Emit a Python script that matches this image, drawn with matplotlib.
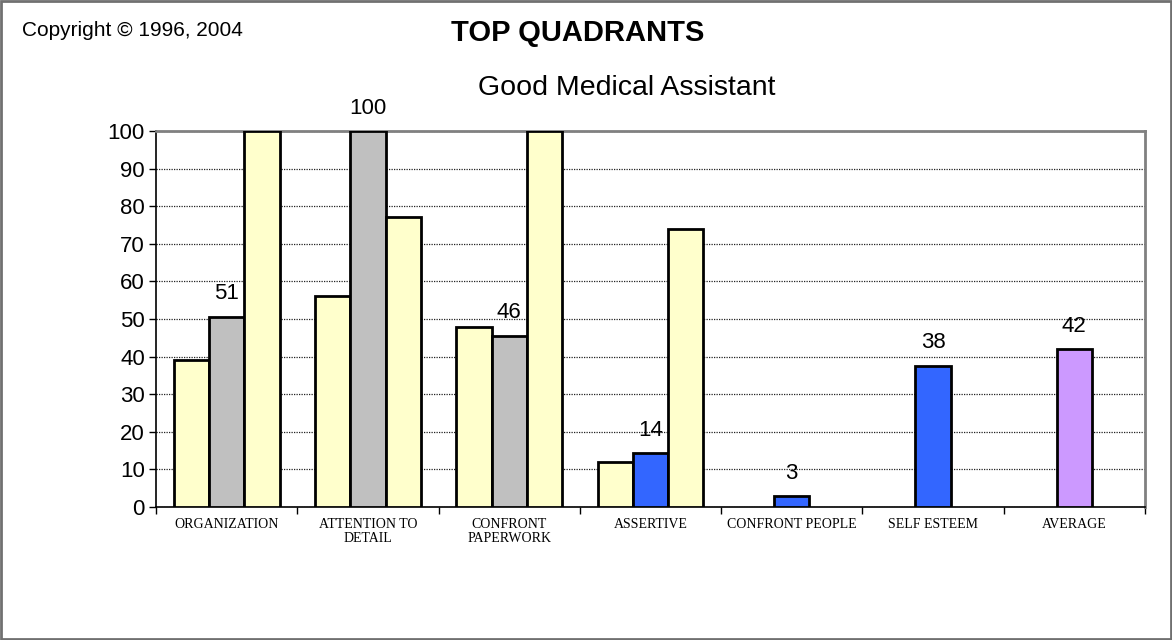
import numpy as np
import matplotlib.pyplot as plt
from matplotlib.patches import Rectangle

# categories and the three series per group
categories = ['ORGANIZATION', 'ATTENTION TO\nDETAIL', 'CONFRONT\nPAPERWORK',
              'ASSERTIVE', 'CONFRONT PEOPLE', 'SELF ESTEEM', 'AVERAGE']
left_vals = [39, 56, 48, 12, np.nan, np.nan, np.nan]
mid_vals = [50.6, 100, 45.6, 14.3, 2.9, 37.6, 41.9]
right_vals = [100, 77, 100, 74, np.nan, np.nan, np.nan]
mid_colors = ['#C0C0C0', '#C0C0C0', '#C0C0C0', '#3366FF', '#3366FF', '#3366FF', '#CC99FF']
side_color = '#FFFFCC'

fig = plt.figure(figsize=(11.72, 6.4), dpi=100)
ax = fig.add_axes([156 / 1172, 1 - 507 / 640, (1145 - 156) / 1172, (507 - 131) / 640])

x = np.arange(len(categories))
w = 0.25
ax.bar(x - w, left_vals, w, color=side_color, edgecolor='black', linewidth=2, zorder=3)
ax.bar(x, mid_vals, w, color=mid_colors, edgecolor='black', linewidth=2, zorder=3)
ax.bar(x + w, right_vals, w, color=side_color, edgecolor='black', linewidth=2, zorder=3)

for xi, v in zip(x, mid_vals):
    ax.annotate('%.0f' % v, (xi, v), xytext=(0, 9), textcoords='offset points',
                ha='center', va='bottom', fontsize=16, family='Liberation Sans', zorder=4)

ax.set_xlim(-0.5, len(categories) - 0.5)
ax.set_ylim(0, 100)
ax.set_yticks(range(0, 101, 10))
ax.yaxis.grid(True, linestyle=(0, (1, 1)), color='#222222', linewidth=0.9, zorder=0)

# category labels between boundary ticks
ax.set_xticks(np.arange(-0.5, len(categories), 1))
ax.set_xticklabels([])
ax.tick_params(axis='x', length=5, width=1)
ax.tick_params(axis='y', length=5, width=1, labelsize=16, pad=3)
for lbl in ax.get_yticklabels():
    lbl.set_family('Liberation Sans')
for xi, c in zip(x, categories):
    ax.text(xi, -2.8, c, ha='center', va='top', fontsize=10, family='Liberation Serif',
            linespacing=1.15)

ax.spines['left'].set_linewidth(1.2)
ax.spines['bottom'].set_linewidth(1.2)
ax.spines['top'].set_color('#808080')
ax.spines['right'].set_color('#808080')
ax.spines['top'].set_linewidth(2)
ax.spines['right'].set_linewidth(2)

fig.text(578 / 1172, 1 - 33 / 640, 'TOP QUADRANTS', ha='center', va='center',
         fontsize=21, fontweight='bold', family='Liberation Sans')
fig.text(627 / 1172, 1 - 88 / 640, 'Good Medical Assistant', ha='center', va='center',
         fontsize=20.5, family='Liberation Sans')
fig.text(22 / 1172, 1 - 30 / 640, 'Copyright \u00a9 1996, 2004', ha='left', va='center',
         fontsize=15, family='Liberation Sans')

fig.patches.append(Rectangle((0.001, 0.002), 0.998, 0.996, transform=fig.transFigure,
                             fill=False, edgecolor='#707070', linewidth=2))

fig.savefig('out.png', dpi=100)
